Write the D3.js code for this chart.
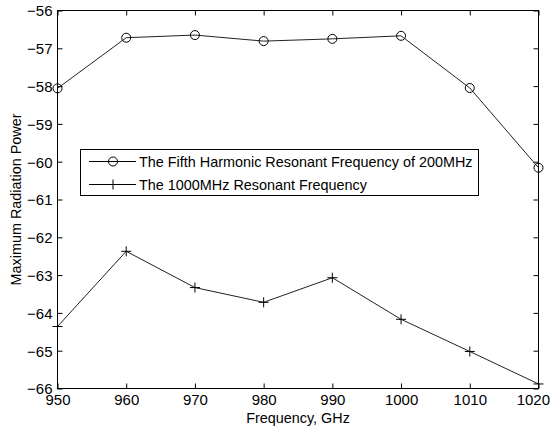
<!DOCTYPE html>
<html><head><meta charset="utf-8">
<script src="https://cdn.jsdelivr.net/npm/d3@7"></script>
<style>
html,body{margin:0;padding:0;background:#fff;}
text{font-family:"Liberation Sans",Arial,sans-serif;font-size:14.4px;fill:#000;}
.tick text{font-size:15px;}
</style></head>
<body>
<svg id="c" width="550" height="430"></svg>
<script>
const frequencies = [950, 960, 970, 980, 990, 1000, 1010, 1020];
const fifthHarmonic = [-58.06, -56.72, -56.65, -56.81, -56.75, -56.67, -58.05, -60.16];
const resonant1000 = [-64.36, -62.37, -63.33, -63.72, -63.07, -64.17, -65.02, -65.88];
const xTicks = [950, 960, 970, 980, 990, 1000, 1010, 1020];
const yTicks = [-66, -65, -64, -63, -62, -61, -60, -59, -58, -57, -56];
const seriesNames = ["The Fifth Harmonic Resonant Frequency of 200MHz", "The 1000MHz Resonant Frequency"];

const svg = d3.select("#c");
const L = 57.5, R = 538.5, T = 10.5, B = 388.5;
const x = d3.scaleLinear().domain([950, 1020]).range([L, R]);
const y = d3.scaleLinear().domain([-66, -56]).range([B, T]);
const tk = 5;

const gx = svg.append("g").attr("transform", `translate(0,${B})`)
  .call(d3.axisBottom(x).tickValues(xTicks).tickFormat(d3.format("d")).tickSizeInner(-tk).tickSizeOuter(0).tickPadding(6));
const gxt = svg.append("g").attr("transform", `translate(0,${T})`)
  .call(d3.axisTop(x).tickValues(xTicks).tickFormat("").tickSizeInner(-tk).tickSizeOuter(0));
const gy = svg.append("g").attr("transform", `translate(${L},0)`)
  .call(d3.axisLeft(y).tickValues(yTicks).tickFormat(d3.format("d")).tickSizeInner(-tk).tickSizeOuter(0).tickPadding(5));
const gyr = svg.append("g").attr("transform", `translate(${R},0)`)
  .call(d3.axisRight(y).tickValues(yTicks).tickFormat("").tickSizeInner(-tk).tickSizeOuter(0));
[gx, gxt, gy, gyr].forEach(g => {
  g.select(".domain").remove();
  g.selectAll("line").attr("stroke", "#000");
  g.selectAll("text").attr("font-family", null).attr("font-size", null).attr("fill", "#000");
});
gy.selectAll("text").attr("dy", "0.36em");
// keep the last x label inside the window
gx.selectAll(".tick text").filter(d => d === 1020).attr("text-anchor", "end").attr("dx", 11);
svg.append("rect").attr("x", L).attr("y", T).attr("width", R - L).attr("height", B - T)
  .attr("fill", "none").attr("stroke", "#000").attr("stroke-width", 1);

const line = d3.line().x((d, i) => x(frequencies[i])).y(d => y(d));
svg.append("path").datum(fifthHarmonic).attr("d", line).attr("fill", "none").attr("stroke", "#222").attr("stroke-width", 1);
svg.append("path").datum(resonant1000).attr("d", line).attr("fill", "none").attr("stroke", "#222").attr("stroke-width", 1);

function circleMarker(g, cx, cy) {
  g.append("circle").attr("cx", cx).attr("cy", cy).attr("r", 4.5).attr("fill", "none").attr("stroke", "#000").attr("stroke-width", 1);
}
function plusMarker(g, cx, cy) {
  g.append("path").attr("d", `M${cx - 5},${cy}H${cx + 5}M${cx},${cy - 5}V${cy + 5}`).attr("stroke", "#000").attr("stroke-width", 1);
}
const m1 = svg.append("g"), m2 = svg.append("g");
fifthHarmonic.forEach((v, i) => circleMarker(m1, x(frequencies[i]), y(v)));
resonant1000.forEach((v, i) => plusMarker(m2, x(frequencies[i]), y(v)));

const lg = svg.append("g");
lg.append("rect").attr("x", 80.5).attr("y", 149.5).attr("width", 398).attr("height", 46)
  .attr("fill", "#fff").attr("stroke", "#000").attr("stroke-width", 1);
const rows = [161.5, 184.5];
rows.forEach((ry, i) => {
  lg.append("line").attr("x1", 89).attr("x2", 136).attr("y1", ry).attr("y2", ry).attr("stroke", "#000");
  if (i === 0) circleMarker(lg, 113, ry); else plusMarker(lg, 113, ry);
  lg.append("text").attr("x", 139).attr("y", ry).attr("dy", "0.36em").text(seriesNames[i]);
});

svg.append("text").attr("x", (L + R) / 2).attr("y", 423).attr("text-anchor", "middle").text("Frequency, GHz");
svg.append("text").attr("transform", `translate(21,${(T + B) / 2}) rotate(-90)`).attr("text-anchor", "middle").text("Maximum Radiation Power");
</script>
</body></html>
